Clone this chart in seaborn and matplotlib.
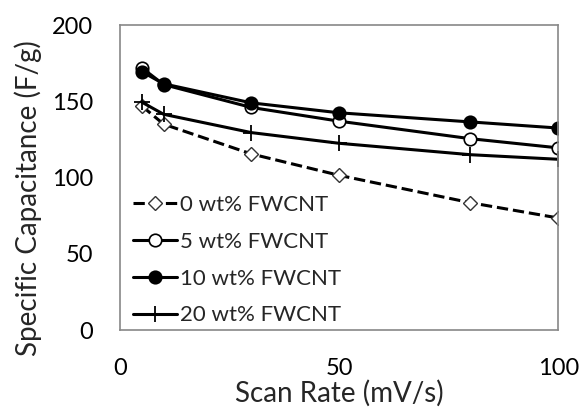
import matplotlib
matplotlib.use("Agg")
import matplotlib.pyplot as plt
import seaborn as sns
import pandas as pd

scan_rate = [5, 10, 30, 50, 80, 100]
cap_0 = [147, 135, 115.5, 101.5, 83.5, 73.5]
cap_5 = [172, 161, 146, 137, 125.5, 119.5]
cap_10 = [169.5, 161.5, 149, 142.5, 136.5, 132.5]
cap_20 = [149.5, 141.5, 129.5, 122.5, 115, 112]
labels = ["0 wt% FWCNT", "5 wt% FWCNT", "10 wt% FWCNT", "20 wt% FWCNT"]

sns.set_theme(style="white")
plt.rcParams['font.family'] = ['Lato', 'DejaVu Sans']

fig = plt.figure(figsize=(5.79, 4.12), dpi=100)
ax = fig.add_axes([0.207, 0.199, 0.757, 0.740])

styles = [
    dict(marker="D", markersize=7.5, markerfacecolor="white", markeredgecolor="#333333",
         linestyle="--", markeredgewidth=1.0),
    dict(marker="o", markersize=9, markerfacecolor="white", markeredgecolor="black",
         linestyle="-", markeredgewidth=1.2),
    dict(marker="o", markersize=9, markerfacecolor="black", markeredgecolor="black",
         linestyle="-", markeredgewidth=1.2),
    dict(marker="+", markersize=12, markerfacecolor="black", markeredgecolor="black",
         linestyle="-", markeredgewidth=1.3),
]
for vals, lab, st in zip([cap_0, cap_5, cap_10, cap_20], labels, styles):
    df = pd.DataFrame({"x": scan_rate, "y": vals})
    sns.lineplot(data=df, x="x", y="y", ax=ax, color="black", linewidth=2.2,
                 label=lab, **st)

ax.set_xlim(0, 100)
ax.set_ylim(0, 200)
ax.set_xticks([0, 50, 100])
ax.set_yticks([0, 50, 100, 150, 200])
ax.tick_params(axis="both", direction="in", length=6, color="#777777", width=1,
               labelsize=17, colors="black")
ax.tick_params(axis="y", pad=19)
ax.tick_params(axis="x", pad=20)
ax.tick_params(axis="both", labelcolor="black", color="#777777")
for s in ax.spines.values():
    s.set_color("#888888")
    s.set_linewidth(1.2)
ax.set_xlabel("Scan Rate (mV/s)", fontsize=20)
ax.set_ylabel("Specific Capacitance (F/g)", fontsize=20)
ax.xaxis.set_label_coords(0.5, -0.165)
ax.yaxis.set_label_coords(-0.178, 0.433)

leg = ax.legend(loc="lower left", frameon=False, fontsize=16, handlelength=2.0,
                handletextpad=0.1, labelspacing=0.76, borderaxespad=0.0,
                borderpad=0.0, bbox_to_anchor=(0.03, 0.015))

fig.savefig("out.png", dpi=100)
